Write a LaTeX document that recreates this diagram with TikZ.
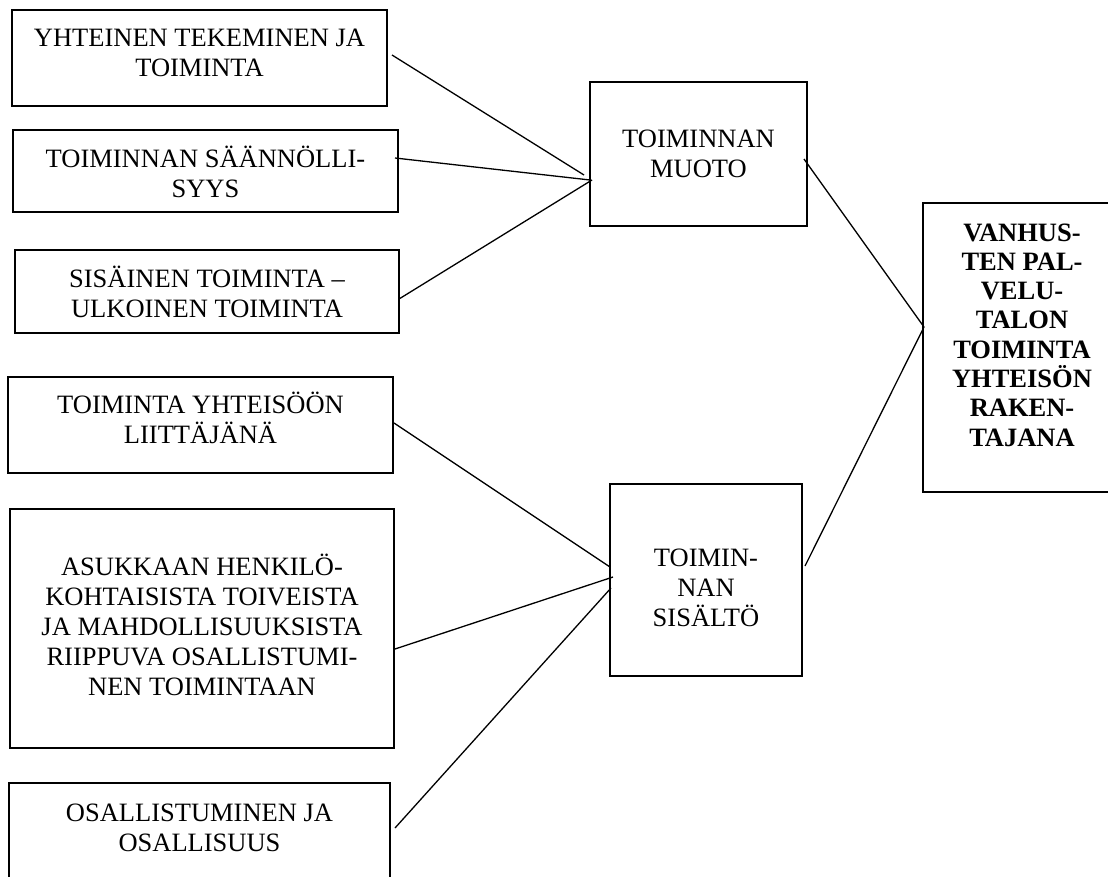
\documentclass[tikz,border=0pt]{standalone}
\usepackage{fontspec}
\setmainfont{Liberation Serif}
\begin{document}
\begin{tikzpicture}[x=1pt,y=-1pt,
  boxstyle/.style={draw, line width=1.4pt, inner sep=0pt, anchor=center},
  txt/.style={inner sep=0pt, align=center, font=\fontsize{26.5}{30}\selectfont},
  btxt/.style={inner sep=0pt, align=center, font=\fontsize{26.5}{29.3}\selectfont\bfseries},
  link/.style={line width=1.3pt}]
\useasboundingbox (0,0) rectangle (1108,877);
% boxes
\node[boxstyle, minimum width=375pt, minimum height=96pt] (b1) at (199.5,58) {};
\node[boxstyle, minimum width=385pt, minimum height=82pt] (b2) at (205.5,171) {};
\node[boxstyle, minimum width=384pt, minimum height=83pt] (b3) at (207,291.5) {};
\node[boxstyle, minimum width=385pt, minimum height=96pt] (b6) at (200.5,425) {};
\node[boxstyle, minimum width=384pt, minimum height=239pt] (b7) at (202,628.5) {};
\node[boxstyle, minimum width=381pt, minimum height=130pt] (b9) at (199.5,848) {};
\node[boxstyle, minimum width=217pt, minimum height=144pt] (muoto) at (698.5,154) {};
\node[boxstyle, minimum width=192pt, minimum height=192pt] (sisalto) at (706,580) {};
\node[boxstyle, minimum width=198pt, minimum height=289pt] (vanhus) at (1022,347.5) {};
% texts
\node[txt] (t1) at (199.5,53) {YHTEINEN TEKEMINEN JA\\TOIMINTA};
\node[txt] (t2) at (205.5,172) {TOIMINNAN SÄÄNNÖLLI-\\SYYS};
\node[txt] (t3) at (207,292) {SISÄINEN TOIMINTA –\\ULKOINEN TOIMINTA};
\node[txt] (t6) at (200.5,418) {TOIMINTA YHTEISÖÖN\\LIITTÄJÄNÄ};
\node[txt] (t7) at (202,625) {ASUKKAAN HENKILÖ-\\KOHTAISISTA TOIVEISTA\\JA MAHDOLLISUUKSISTA\\RIIPPUVA OSALLISTUMI-\\NEN TOIMINTAAN};
\node[txt] (t9) at (199.5,828) {OSALLISTUMINEN JA\\OSALLISUUS};
\node[txt] (tm) at (698.5,154) {TOIMINNAN\\MUOTO};
\node[txt] (ts) at (706,588) {TOIMIN-\\NAN\\SISÄLTÖ};
\node[btxt] (tv) at (1022,335) {VANHUS-\\TEN PAL-\\VELU-\\TALON\\TOIMINTA\\YHTEISÖN\\RAKEN-\\TAJANA};
% connector end points
\coordinate (b1e) at (392,55);
\coordinate (b2e) at (395,158);
\coordinate (b3e) at (399,299);
\coordinate (b6e) at (394,423);
\coordinate (b7e) at (395,649);
\coordinate (b9e) at (395,828);
\coordinate (m1) at (584,175);
\coordinate (m2) at (590,180);
\coordinate (m3) at (592,180);
\coordinate (s1) at (610,567);
\coordinate (s2) at (613,577);
\coordinate (s3) at (611,588);
\coordinate (me) at (804,159);
\coordinate (se) at (805,566);
\coordinate (vw) at (924,327);
% connectors
\draw[link] (b1e) -- (m1);
\draw[link] (b2e) -- (m2);
\draw[link] (b3e) -- (m3);
\draw[link] (b6e) -- (s1);
\draw[link] (b7e) -- (s2);
\draw[link] (b9e) -- (s3);
\draw[link] (me) -- (vw);
\draw[link] (se) -- (vw);
\end{tikzpicture}
\end{document}
